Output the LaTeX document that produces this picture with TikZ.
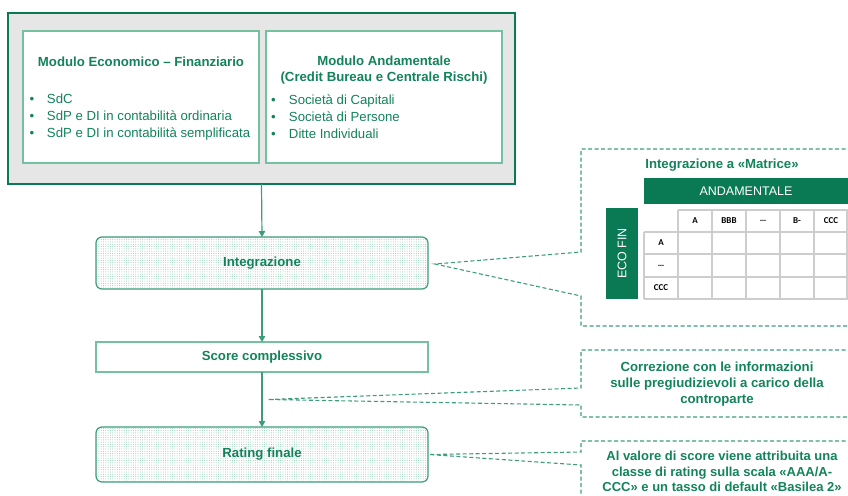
\documentclass[tikz,border=0pt]{standalone}
\usepackage{fontspec}
\setmainfont{Liberation Sans}
\newfontfamily\cellfont{Carlito}
\usetikzlibrary{arrows.meta,patterns.meta,calc}
\definecolor{dkgreen}{HTML}{0A7A54}
\definecolor{txtgreen}{HTML}{13835B}
\definecolor{midgreen}{HTML}{3C9E79}
\definecolor{ltgreen}{HTML}{74C0A1}
\definecolor{dotgreen}{HTML}{8CCAB0}
\definecolor{boxgray}{HTML}{E6E6E6}
\definecolor{gridgray}{HTML}{CDCDCD}
\begin{document}
\begin{tikzpicture}[x=1pt,y=-1pt,
  every node/.style={inner sep=0pt, outer sep=0pt},
  bigtxt/.style={font=\fontsize{13.2}{16.3}\selectfont\bfseries, text=txtgreen, align=center},
  listtxt/.style={font=\fontsize{13.2}{17}\selectfont, text=txtgreen, align=left},
  outerbox/.style={draw=dkgreen, line width=1.2pt, fill=boxgray, anchor=north west},
  innerbox/.style={draw=ltgreen, line width=1.2pt, fill=white, anchor=north west},
  dotbox/.style={draw=midgreen, line width=1.2pt, rounded corners=6pt, anchor=north west,
    pattern={Dots[distance=2.3pt, radius=0.5pt]}, pattern color=dotgreen},
  plainbox/.style={draw=ltgreen, line width=1.2pt, fill=white, anchor=north west},
  arr/.style={draw=midgreen, line width=1.2pt, -{Triangle[length=6pt,width=6.5pt]}},
  callout/.style={draw=midgreen, line width=1.1pt, dash pattern=on 4pt off 2.5pt},
  greenbar/.style={fill=dkgreen, text=white, font=\fontsize{12.5}{14}\selectfont},
  grid line/.style={draw=gridgray, line width=1.1pt},
  celltxt/.style={font=\cellfont\bfseries\fontsize{9}{10}\selectfont, text=black}
]
\useasboundingbox (0,0) rectangle (848,495);
\clip (0,0) rectangle (848,495);

% top modules
\node[outerbox, minimum width=507, minimum height=171] (outer) at (8,13) {};
\node[innerbox, minimum width=236, minimum height=132] (eco) at (23,31) {};
\node[innerbox, minimum width=236, minimum height=132] (anda) at (266,31) {};
\node[bigtxt] (ecotitle) at (141,62) {Modulo Economico – Finanziario};
\node[bigtxt] (andatitle) at (384,70) {Modulo Andamentale\\(Credit Bureau e Centrale Rischi)};
\node[listtxt, anchor=west] (ecolist) at (29.5,117)
  {\makebox[17.5pt][l]{•}SdC\\\makebox[17.5pt][l]{•}SdP e DI in contabilità ordinaria\\\makebox[17.5pt][l]{•}SdP e DI in contabilità semplificata};
\node[listtxt, anchor=west] (andalist) at (271,117)
  {\makebox[18pt][l]{•}Società di Capitali\\\makebox[18pt][l]{•}Società di Persone\\\makebox[18pt][l]{•}Ditte Individuali};

% flow boxes
\node[dotbox, minimum width=332, minimum height=52] (integ) at (96,237) {};
\node[bigtxt] (integtxt) at (integ.center) {Integrazione};
\node[plainbox, minimum width=332, minimum height=30] (score) at (96,342) {};
\node[bigtxt] (scoretxt) at (score.center) {Score complessivo};
\node[dotbox, minimum width=332, minimum height=55] (rating) at (96,427) {};
\node[bigtxt] (ratingtxt) at (rating.center) {Rating finale};

\draw[arr] (outer.south) -- (integ.north);
\draw[arr] (integ.south) -- (score.north);
\draw[arr] (score.south) -- (rating.north);

% callout pointers
\coordinate (ip) at ($(integ.east)+(7,1)$);
\coordinate (sp) at ($(score.south)!0.5!(rating.north)+(6,0)$);
\coordinate (rp) at ($(rating.east)+(1,0)$);

% matrix callout
\draw[callout] (852,149) -- (581,149) -- (581,252) -- (ip) -- (581,296) -- (581,326) -- (852,326);
\node[bigtxt] (mattitle) at (722,165) {Integrazione a «Matrice»};
\node[greenbar, anchor=north west, minimum width=204, minimum height=26] (andabar) at (644,178) {ANDAMENTALE};
\node[greenbar, rotate=90, minimum width=91, minimum height=32] (ecobar) at (622,253.5) {ECO FIN};

% table grid
\draw[grid line] (678,210) -- (850,210);
\foreach \yy in {232,254,277,299} \draw[grid line] (644,\yy) -- (850,\yy);
\draw[grid line] (644,232) -- (644,299);
\foreach \xx in {678,712,746,780,814,847} \draw[grid line] (\xx,210) -- (\xx,299);
\foreach \lab [count=\i] in {A,BBB,\ldots,B-,CCC}
  \node[celltxt] (col\i) at ({661+34*\i},221) {\lab};
\node[celltxt] (row1) at (661,243) {A};
\node[celltxt] (row2) at (661,265.5) {\ldots};
\node[celltxt] (row3) at (661,288) {CCC};

% score callout
\draw[callout] (852,350) -- (581,350) -- (581,388) -- (sp) -- (581,405) -- (581,417) -- (852,417);
\node[bigtxt] (scorecall) at (717,384) {Correzione con le informazioni\\sulle pregiudizievoli a carico della\\controparte};

% rating callout
\draw[callout] (852,441) -- (581,441) -- (581,452) -- (rp) -- (581,465) -- (581,500);
\node[bigtxt, font=\fontsize{13}{15.8}\selectfont\bfseries] (ratingcall) at (722,471.5) {Al valore di score viene attribuita una\\classe di rating sulla scala «AAA/A-\\CCC» e un tasso di default «Basilea 2»};
\end{tikzpicture}
\end{document}
